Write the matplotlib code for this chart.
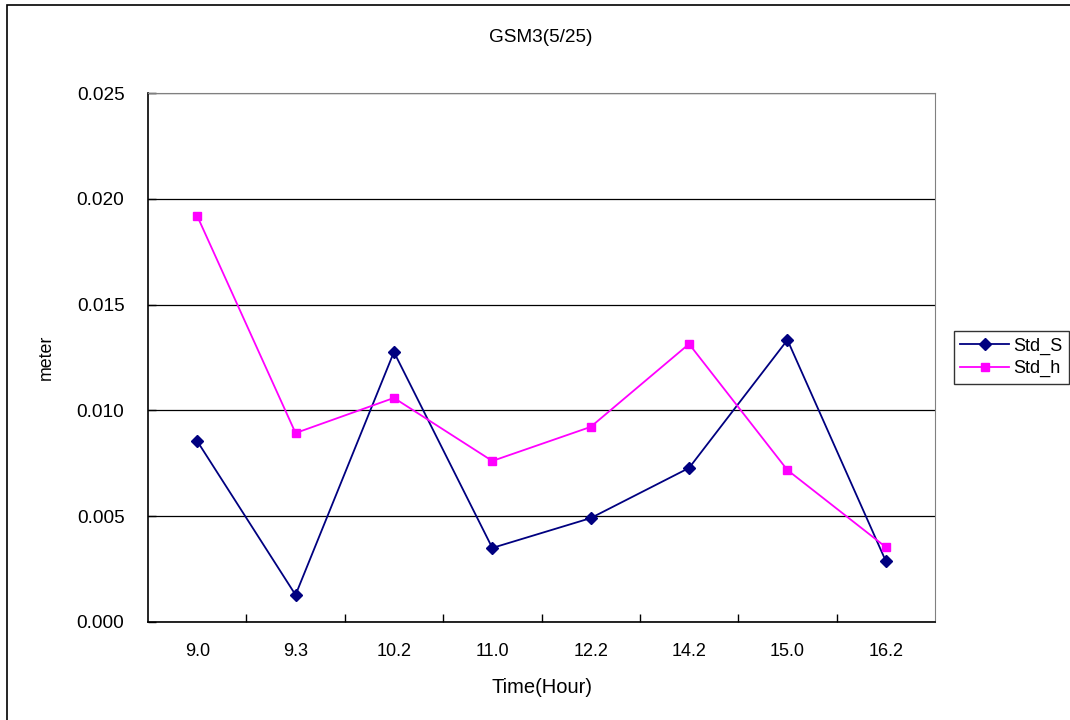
import numpy as np
import matplotlib
matplotlib.use('Agg')
from matplotlib import pyplot as plt
from matplotlib.patches import Rectangle

# data
hours = ['9.0', '9.3', '10.2', '11.0', '12.2', '14.2', '15.0', '16.2']
std_s = [0.00855, 0.00128, 0.01276, 0.00350, 0.00491, 0.00728, 0.01333, 0.00288]
std_h = [0.01919, 0.00893, 0.01059, 0.00761, 0.00922, 0.01314, 0.00718, 0.00354]

plt.rcParams['font.family'] = ['Liberation Sans', 'DejaVu Sans']

fig = plt.figure(figsize=(10.7, 7.2), dpi=100)
ax = fig.add_axes([148/1070, 98/720, 787/1070, 529/720])

# outer chart border
fig.patches.append(Rectangle((7/1070, -0.05), 1.2, (715/720) + 0.05, transform=fig.transFigure,
                             fill=False, edgecolor='black', linewidth=1.2))

x = np.arange(len(hours))
ax.plot(x, std_s, color='#000080', marker='D', markersize=6, linewidth=1.3, label='Std_S')
ax.plot(x, std_h, color='#FF00FF', marker='s', markersize=6, linewidth=1.3, label='Std_h')

ax.set_xlim(-0.5, len(hours) - 0.5)
ax.set_ylim(0, 0.025)
ax.set_yticks(np.arange(0, 0.0251, 0.005))
ax.set_yticklabels(['%.3f' % v for v in np.arange(0, 0.0251, 0.005)])
ax.set_xticks(x)
ax.set_xticklabels(hours)
ax.set_xticks(np.arange(0.5, len(hours) - 1, 1), minor=True)
ax.tick_params(axis='x', which='major', length=0, pad=15, labelsize=13)
ax.tick_params(axis='x', which='minor', direction='in', length=6, width=1)
ax.tick_params(axis='y', direction='in', length=6, width=1, labelsize=13.7, pad=17)

ax.yaxis.grid(True, color='black', linewidth=0.9)
ax.set_axisbelow(True)
for side in ['top', 'right']:
    ax.spines[side].set_color('#808080')
ax.spines['left'].set_linewidth(1.2)
ax.spines['bottom'].set_linewidth(1.2)

ax.set_xlabel('Time(Hour)', fontsize=14.5, labelpad=13)
ax.set_ylabel('meter', fontsize=12.8, labelpad=16)
fig.text(541/1070, 1 - 37/720, 'GSM3(5/25)', ha='center', va='center', fontsize=13.7)

leg = ax.legend(loc='center left', bbox_to_anchor=(954/787 - 148/787, 0.5), frameon=True,
                fancybox=False, edgecolor='black', fontsize=13, borderpad=0.35,
                handlelength=2.7, handletextpad=0.25, labelspacing=0.3, borderaxespad=0)
leg.get_frame().set_linewidth(1)

fig.savefig('out.png', dpi=100)
